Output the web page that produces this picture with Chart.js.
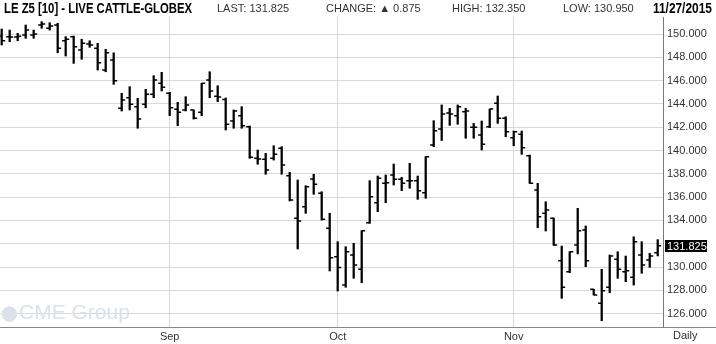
<!DOCTYPE html>
<html>
<head>
<meta charset="utf-8">
<script src="https://cdn.jsdelivr.net/npm/chart.js@4.4.0/dist/chart.umd.min.js"></script>
<style>
  body { margin: 0; background: #fff; }
  #wrap { position: relative; width: 716px; height: 344px; font-family: "Liberation Sans", Arial, sans-serif; }
  #wrap canvas { position: absolute; left: 0; top: 0; }
  .hd { position: absolute; top: 1px; line-height: 14px; font-size: 11px; color: #333; white-space: nowrap; }
  .bold { font-weight: bold; font-size: 14px; color: #000; transform-origin: 0 50%; }
  #mark { position: absolute; left: 1px; top: 300px; font-size: 21px; color: #dbe1e8; white-space: nowrap; }
  #mark span { font-size: 15px; position: relative; top: -1px; margin-right: 1px; }
  #daily { position: absolute; left: 673px; top: 329px; font-size: 11px; color: #333; }
</style>
</head>
<body>
<div id="wrap">
  <canvas id="canvas-chart" width="716" height="344"></canvas>
  <div class="hd bold" style="left:4px; transform: scaleX(0.81)">LE Z5 [10] - LIVE CATTLE-GLOBEX</div>
  <div class="hd" style="left:217px">LAST: 131.825</div>
  <div class="hd" style="left:326px">CHANGE: &#9650; 0.875</div>
  <div class="hd" style="left:452px">HIGH: 132.350</div>
  <div class="hd" style="left:563px">LOW: 130.950</div>
  <div class="hd bold" style="left:653px; transform: scaleX(0.85)">11/27/2015</div>
  <div id="mark"><span>&#11044;</span>CME Group</div>
  <div id="daily">Daily</div>
</div>
<script>
// trading days, Aug 3 - Nov 27 2015
const dates = [
  "08/03","08/04","08/05","08/06","08/07","08/10","08/11","08/12","08/13","08/14",
  "08/17","08/18","08/19","08/20","08/21","08/24","08/25","08/26","08/27","08/28","08/31",
  "09/01","09/02","09/03","09/04","09/08","09/09","09/10","09/11","09/14","09/15",
  "09/16","09/17","09/18","09/21","09/22","09/23","09/24","09/25","09/28","09/29","09/30",
  "10/01","10/02","10/05","10/06","10/07","10/08","10/09","10/12","10/13","10/14","10/15",
  "10/16","10/19","10/20","10/21","10/22","10/23","10/26","10/27","10/28","10/29","10/30",
  "11/02","11/03","11/04","11/05","11/06","11/09","11/10","11/11","11/12","11/13",
  "11/16","11/17","11/18","11/19","11/20","11/23","11/24","11/25","11/27"
];

const opens = [
  149.83, 149.77, 149.75, 149.91, 149.91, 150.77, 150.49, 150.77, 149.42, 149.77,
  148.63, 149.14, 148.77, 146.91, 147.77, 143.62, 144.53, 143.76, 143.97, 144.82,
  145.77, 144.91, 143.54, 143.48, 143.48, 143.28, 146.05, 144.65, 144.38, 142.53,
  142.99, 142.04, 139.33, 139.24, 139.33, 140.19, 137.84, 134.18, 135.18, 137.55,
  136.33, 133.32, 130.88, 128.45, 131.03, 129.80, 133.80, 135.52, 137.18, 137.90,
  137.53, 137.41, 137.41, 136.38, 140.47, 141.85, 143.22, 142.99, 143.33, 141.99,
  141.33, 142.04, 144.05, 142.76, 141.10, 141.39, 139.55, 136.61, 134.61, 134.18,
  130.54, 129.60, 131.89, 133.18, 128.09, 126.88, 128.26, 130.66, 129.60, 129.12,
  131.03, 130.60, 131.23
];
const highs = [
  150.43, 150.34, 150.06, 150.77, 150.34, 151.06, 150.97, 150.92, 149.77, 149.83,
  149.55, 149.42, 149.20, 148.69, 148.39, 144.91, 145.48, 144.48, 145.25, 146.42,
  146.71, 145.00, 144.14, 144.62, 143.48, 145.77, 146.76, 145.56, 144.51, 143.48,
  143.76, 142.10, 140.04, 139.76, 140.41, 140.33, 138.13, 137.47, 136.98, 137.96,
  136.46, 134.61, 132.17, 131.74, 132.03, 133.12, 137.41, 137.81, 137.90, 138.84,
  137.70, 138.90, 137.81, 139.47, 142.56, 143.91, 143.62, 143.91, 143.62, 142.33,
  142.53, 143.56, 144.68, 142.90, 141.67, 141.67, 139.61, 137.18, 135.60, 134.21,
  131.80, 131.31, 135.04, 133.52, 128.09, 129.80, 131.03, 131.31, 130.94, 132.60,
  132.17, 131.18, 132.35
];
const lows = [
  149.06, 149.34, 149.42, 149.63, 149.63, 150.49, 150.34, 148.39, 148.11, 147.48,
  147.83, 148.86, 146.91, 146.76, 145.68, 143.39, 143.48, 141.91, 143.67, 144.53,
  145.11, 142.99, 142.13, 143.39, 142.70, 142.99, 144.53, 144.19, 141.76, 141.91,
  141.91, 139.33, 138.82, 137.96, 139.18, 137.96, 135.67, 131.55, 134.61, 136.24,
  134.03, 129.66, 127.94, 128.26, 129.03, 128.65, 133.75, 134.75, 135.52, 137.04,
  136.55, 136.76, 135.81, 135.90, 140.33, 140.86, 142.16, 142.25, 141.05, 141.05,
  140.04, 141.96, 142.33, 141.18, 140.41, 139.67, 137.18, 133.37, 133.09, 131.86,
  127.31, 129.51, 131.12, 130.03, 127.60, 125.39, 127.79, 129.03, 128.74, 128.45,
  129.46, 129.97, 130.95
];
const closes = [
  149.42, 149.74, 149.80, 150.34, 150.00, 150.86, 150.69, 148.77, 149.55, 148.91,
  149.20, 149.06, 147.54, 148.39, 145.99, 144.33, 143.97, 142.70, 144.82, 146.05,
  145.42, 143.67, 143.28, 143.91, 142.76, 145.77, 145.11, 144.60, 142.25, 143.39,
  142.13, 139.42, 139.27, 138.33, 139.67, 138.76, 135.75, 133.95, 136.89, 137.10,
  134.09, 130.80, 129.96, 131.31, 130.17, 133.12, 136.03, 137.61, 137.24, 137.53,
  137.18, 137.41, 136.55, 139.47, 141.70, 143.13, 143.13, 143.76, 143.39, 141.99,
  140.53, 143.56, 142.76, 141.61, 141.61, 140.24, 137.18, 134.32, 134.89, 131.89,
  128.26, 131.31, 133.12, 130.54, 127.60, 127.97, 130.94, 129.80, 129.68, 132.17,
  130.17, 130.95, 131.825
];

const monthNames = { "09": "Sep", "10": "Oct", "11": "Nov" };
const yTicks = [126, 128, 130, 132, 134, 136, 138, 140, 142, 144, 146, 148, 150];

// first trading day of each labelled month
const monthStarts = [];
dates.forEach((d, i) => {
  const m = d.slice(0, 2);
  if (monthNames[m] && (i === 0 || dates[i - 1].slice(0, 2) !== m)) monthStarts.push(i);
});

const lastClose = closes[closes.length - 1];

// open tick left, close tick right, plus last price box
const ohlcTicks = {
  id: "ohlcTicks",
  afterDatasetsDraw(chart) {
    const { ctx, scales } = chart;
    const xs = scales.x, ys = scales.y;
    ctx.save();
    ctx.strokeStyle = "#000";
    ctx.lineWidth = 1.5;
    ctx.beginPath();
    for (let i = 0; i < dates.length; i++) {
      const x = xs.getPixelForValue(i);
      const yo = ys.getPixelForValue(opens[i]);
      const yc = ys.getPixelForValue(closes[i]);
      ctx.moveTo(x - 3.5, yo); ctx.lineTo(x, yo);
      ctx.moveTo(x, yc); ctx.lineTo(x + 3.5, yc);
    }
    ctx.stroke();
    ctx.restore();
  },
  afterDraw(chart) {
    const { ctx, chartArea, scales } = chart;
    ctx.save();
    // bottom rule under the price axis too
    ctx.strokeStyle = "#888";
    ctx.lineWidth = 1;
    ctx.beginPath();
    ctx.moveTo(0, chartArea.bottom + 0.5);
    ctx.lineTo(716, chartArea.bottom + 0.5);
    ctx.stroke();
    const y = Math.round(scales.y.getPixelForValue(lastClose));
    ctx.fillStyle = "#000";
    ctx.fillRect(chartArea.right + 2, y - 6, 42, 12);
    ctx.fillStyle = "#fff";
    ctx.font = "11px 'Liberation Sans', Arial, sans-serif";
    ctx.textBaseline = "middle";
    ctx.fillText(lastClose.toFixed(3), chartArea.right + 4, y + 0.5);
    ctx.restore();
  }
};

const canvas = document.getElementById("canvas-chart");
const cattleChart = new Chart(canvas, {
  type: "bar",
  data: {
    datasets: [
      {
        label: "LE Z5",
        data: dates.map((d, i) => ({ x: i, y: [lows[i], highs[i]] })),
        backgroundColor: "#000",
        borderWidth: 0,
        barThickness: 1.6,
      },
    ],
  },
  options: {
    responsive: false,
    animation: false,
    layout: { padding: { top: 17, left: 0, right: 0, bottom: 0 } },
    plugins: { legend: { display: false }, tooltip: { enabled: false } },
    scales: {
      x: {
        type: "linear",
        offset: false,
        min: -0.21,
        max: 82.66,
        afterBuildTicks: (scale) => {
          scale.ticks = monthStarts.map((v) => ({ value: v }));
        },
        afterFit: (scale) => { scale.height = 17; },
        ticks: {
          autoSkip: false,
          maxRotation: 0,
          padding: 3,
          color: "#333",
          font: { family: "'Liberation Sans', Arial, sans-serif", size: 11 },
          callback: (v) => monthNames[dates[v].slice(0, 2)],
        },
        grid: { color: "#d9d9d9", drawTicks: false, offset: false },
        border: { display: true, color: "#888" },
      },
      y: {
        position: "right",
        min: 124.85,
        max: 151.46,
        afterBuildTicks: (scale) => {
          scale.ticks = yTicks.map((v) => ({ value: v }));
        },
        afterFit: (scale) => { scale.width = 53; },
        ticks: {
          padding: 4,
          color: "#333",
          font: { family: "'Liberation Sans', Arial, sans-serif", size: 11 },
          callback: (v) => (Math.abs(v - lastClose) < 1 ? "" : Number(v).toFixed(3)),
        },
        grid: { color: "#d9d9d9", drawTicks: false },
        border: { display: true, color: "#777" },
      },
    },
  },
  plugins: [ohlcTicks],
});
</script>
</body>
</html>
